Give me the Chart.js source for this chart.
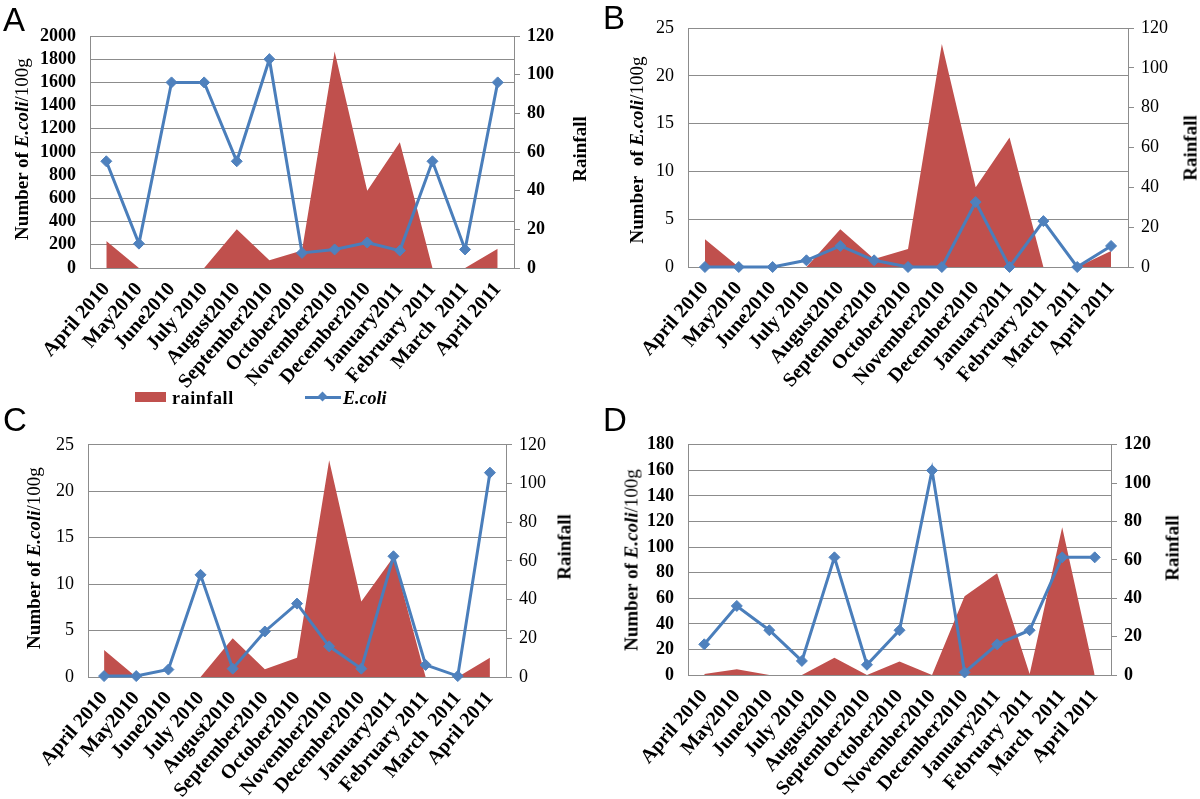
<!DOCTYPE html>
<html>
<head>
<meta charset="utf-8">
<script src="https://cdn.jsdelivr.net/npm/chart.js@4.4.1/dist/chart.umd.min.js"></script>
<style>
body { margin: 0; background: #fff; }
#page { position: relative; width: 1200px; height: 799px; overflow: hidden; font-family: 'Liberation Serif', 'Times New Roman', serif; color: #000; }
canvas { position: absolute; }
.letter { position: absolute; font-family: 'Liberation Sans', Arial, sans-serif; font-size: 33px; line-height: 1; }
.vtitle { position: absolute; transform: translate(-50%, -50%) rotate(-90deg); white-space: nowrap; font-size: 19px; font-weight: bold; line-height: 1; }
.legend { position: absolute; white-space: nowrap; font-size: 18px; font-weight: bold; line-height: 1; }
</style>
</head>
<body>
<div id="page">
  <canvas id="chartA" width="600" height="420" style="left:0;top:0"></canvas>
  <canvas id="chartB" width="600" height="420" style="left:600px;top:0"></canvas>
  <canvas id="chartC" width="600" height="379" style="left:0;top:420px"></canvas>
  <canvas id="chartD" width="600" height="379" style="left:600px;top:420px"></canvas>

  <div class="letter" style="left:3px;top:3px">A</div>
  <div class="letter" style="left:603px;top:1px">B</div>
  <div class="letter" style="left:3px;top:403px">C</div>
  <div class="letter" style="left:603px;top:403px">D</div>

  <div class="vtitle" style="left:21px;top:149px">Number of <i>E.coli</i><span style="font-weight:normal">/100g</span></div>
  <div class="vtitle" style="left:579px;top:149px">Rainfall</div>
  <div class="vtitle" style="left:636px;top:150px">Number&nbsp; of <i>E.coli</i><span style="font-weight:normal">/100g</span></div>
  <div class="vtitle" style="left:1190px;top:148px">Rainfall</div>
  <div class="vtitle" style="left:33px;top:558px">Number of <i>E.coli</i><span style="font-weight:normal">/100g</span></div>
  <div class="vtitle" style="left:564px;top:547px">Rainfall</div>
  <div class="vtitle" style="left:631px;top:560px">Number of <i>E.coli</i><span style="font-weight:normal">/100g</span></div>
  <div class="vtitle" style="left:1172px;top:548px">Rainfall</div>

  <!-- legend under panel A -->
  <div style="position:absolute;left:135px;top:392px;width:31px;height:10px;background:#C0504D"></div>
  <div class="legend" style="left:172px;top:389px;letter-spacing:0.6px">rainfall</div>
  <div style="position:absolute;left:305px;top:396px;width:36px;height:3px;background:#4A7EBB"></div>
  <div style="position:absolute;left:319px;top:393px;width:7px;height:7px;background:#4F81BD;transform:rotate(45deg)"></div>
  <div class="legend" style="left:343px;top:389px"><i>E.coli</i></div>
</div>

<script>
// categories
const months = ['April 2010', 'May2010', 'June2010', 'July 2010', 'August2010', 'September2010', 'October2010',
  'November2010', 'December2010', 'January2011', 'February 2011', 'March  2011', 'April 2011'];

// E.coli per 100 g (left axis)
const ecoliA = [920, 210, 1600, 1600, 920, 1800, 130, 160, 220, 150, 920, 160, 1600];
const ecoliB = [0, 0, 0, 0.7, 2.2, 0.7, 0, 0, 6.8, 0, 4.8, 0, 2.2];
const ecoliC = [0.1, 0.1, 0.8, 11, 0.9, 4.9, 7.9, 3.3, 0.9, 13, 1.3, 0.1, 22];
const ecoliD = [24, 54, 35, 11, 92, 8, 35, 160, 2, 24, 35, 92, 92];

// rainfall (right axis)
const rainfallA = [14, 0, 0, 0, 20, 4, 9, 112, 40, 65, 0, 0, 10];
const rainfallB = [14, 0, 0, 0, 19, 4, 9, 112, 40, 65, 0, 0, 8];
const rainfallC = [14, 0, 0, 0, 20, 4, 10, 112, 39, 62, 0, 0, 10];
const rainfallD = [0.5, 3, 0, 0, 9, 0, 7, 0, 41, 53, 0.5, 77, 0];

// axis ranges
const ecoliMax = { A: 2000, B: 25, C: 25, D: 180 };
const ecoliStep = { A: 200, B: 5, C: 5, D: 20 };
const rainMax = 120;
const rainStep = 20;

const gridColor = '#8C8C8C';
const serif = "'Liberation Serif', 'Times New Roman', serif";

// Function to create one panel
function createPanel(canvasId, ecoli, rain, key, area, boldTicks) {
    const canvas = document.getElementById(canvasId);
    const tickFont = { family: serif, size: 18, weight: boldTicks ? 'bold' : 'normal' };
    new Chart(canvas, {
        type: 'line',
        data: {
            labels: months,
            datasets: [{
                label: 'E.coli',
                data: ecoli,
                yAxisID: 'y',
                order: 1,
                borderColor: '#4A7EBB',
                borderWidth: 3,
                tension: 0,
                pointStyle: 'rectRot',
                pointRadius: 5.5,
                pointBackgroundColor: '#4F81BD',
                pointBorderColor: '#4F81BD',
                pointBorderWidth: 1,
                clip: false
            }, {
                label: 'rainfall',
                data: rain,
                yAxisID: 'y1',
                order: 2,
                fill: 'origin',
                backgroundColor: '#C0504D',
                borderColor: 'transparent',
                borderWidth: 0,
                pointRadius: 0,
                tension: 0
            }]
        },
        options: {
            responsive: false,
            animation: false,
            layout: { padding: { top: area.t, left: 0, right: 0, bottom: 0 } },
            plugins: {
                legend: { display: false },
                tooltip: { enabled: false }
            },
            scales: {
                x: {
                    offset: true,
                    grid: { display: false },
                    border: { display: true, color: gridColor },
                    ticks: {
                        color: '#000',
                        font: { family: serif, size: 20, weight: 'bold' },
                        minRotation: 49,
                        maxRotation: 49,
                        autoSkip: false,
                        padding: 2
                    },
                    afterFit: (scale) => { scale.height = canvas.height - area.b; }
                },
                y: {
                    position: 'left',
                    min: 0,
                    max: ecoliMax[key],
                    grid: { color: gridColor, drawTicks: false },
                    border: { display: true, color: gridColor },
                    ticks: {
                        stepSize: ecoliStep[key], autoSkip: false, color: '#000', font: tickFont, padding: 14,
                        callback: (v) => String(v)
                    },
                    afterFit: (scale) => { scale.width = area.l; }
                },
                y1: {
                    position: 'right',
                    min: 0,
                    max: rainMax,
                    grid: { drawOnChartArea: false, color: gridColor, tickLength: 6 },
                    border: { display: true, color: gridColor },
                    ticks: {
                        stepSize: rainStep, autoSkip: false, color: '#000', font: tickFont, padding: 7,
                        callback: (v) => String(v)
                    },
                    afterFit: (scale) => { scale.width = canvas.width - area.r; }
                }
            }
        }
    });
}

createPanel('chartA', ecoliA, rainfallA, 'A', { l: 90, r: 514, t: 36, b: 268 }, true);
createPanel('chartB', ecoliB, rainfallB, 'B', { l: 88, r: 528, t: 28, b: 267 }, false);
createPanel('chartC', ecoliC, rainfallC, 'C', { l: 88, r: 506, t: 17, b: 257 }, false);
createPanel('chartD', ecoliD, rainfallD, 'D', { l: 88, r: 511, t: 17, b: 255 }, true);
</script>
</body>
</html>
